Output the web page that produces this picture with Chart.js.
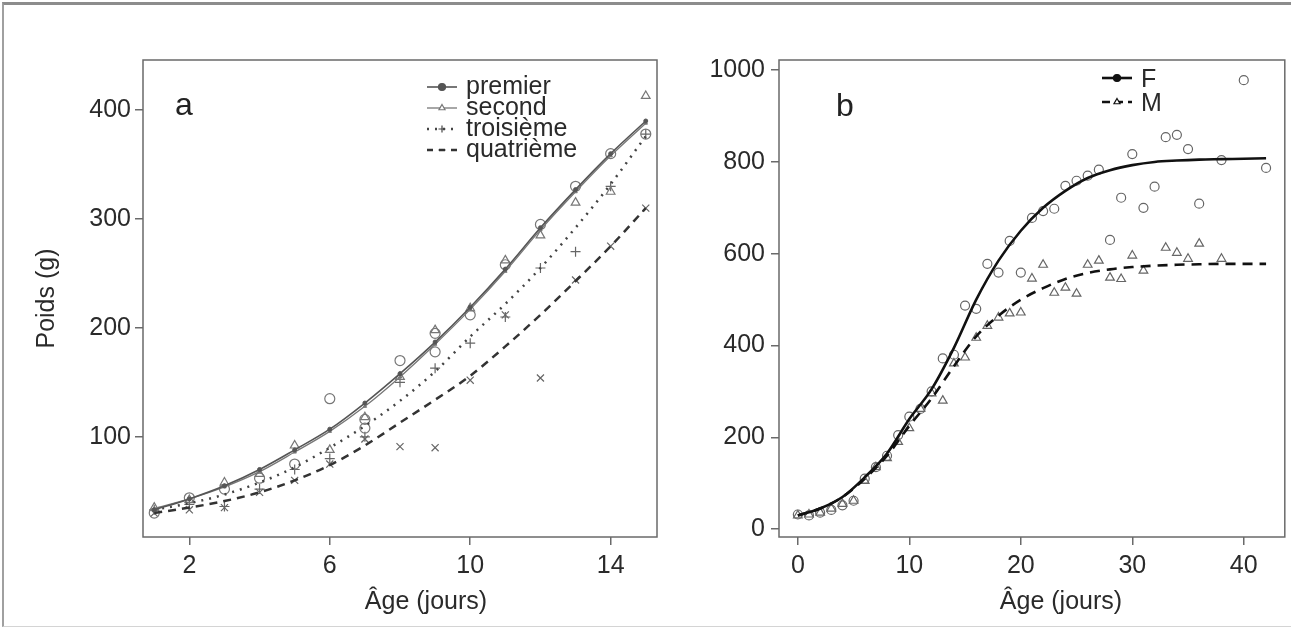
<!DOCTYPE html>
<html>
<head>
<meta charset="utf-8">
<script src="https://cdn.jsdelivr.net/npm/chart.js@4"></script>
<style>
html, body { margin: 0; padding: 0; background: #fff; }
#wrap { position: relative; width: 1291px; height: 634px; overflow: hidden; }
#frame { position: absolute; left: 2px; top: 2px; width: 1300px; height: 621px;
  border-top: 3px solid #8c8c8c; border-left: 2px solid #a0a0a0; border-bottom: 1px solid #d4d4d4; }
canvas { position: absolute; top: 0; }
</style>
</head>
<body>
<div id="wrap">
  <div id="frame"></div>
  <canvas id="chartA" width="680" height="634" style="left:0"></canvas>
  <canvas id="chartB" width="611" height="634" style="left:680px"></canvas>
</div>
<script>
// panel a : weight by litter rank
const agesA = [1, 2, 3, 4, 5, 6, 7, 8, 9, 10, 11, 12, 13, 14, 15];
const premierFit   = [33, 43, 55, 70, 88, 107, 131, 158, 187, 219, 254, 292, 327, 360, 390];
const secondFit    = [34, 43, 54, 68, 86, 105, 128, 155, 185, 217, 252, 290, 325, 358, 388];
const troisiemeFit = [33, 39, 47, 58, 72, 90, 110, 133, 160, 192, 222, 255, 292, 332, 376];
const quatriemeFit = [30, 35, 41, 49, 60, 74, 92, 113, 134, 156, 183, 212, 243, 275, 310];

const premierPts   = [[1,30],[2,44],[3,52],[4,62],[5,75],[6,135],[7,108],[7,116],[8,170],[9,178],[9,195],[10,212],[11,258],[12,295],[13,330],[14,360],[15,378]];
const secondPts    = [[1,35],[2,42],[3,58],[4,66],[5,92],[6,88],[7,118],[8,155],[9,198],[10,218],[11,262],[12,285],[13,315],[14,325],[15,413]];
const troisiemePts = [[1,33],[2,38],[3,36],[4,52],[5,70],[6,80],[7,100],[8,150],[9,163],[10,186],[11,210],[12,255],[13,270],[14,330],[15,378]];
const quatriemePts = [[1,30],[2,33],[3,35],[4,49],[5,60],[6,75],[7,98],[8,91],[9,90],[10,152],[11,212],[12,154],[13,244],[14,275],[15,310]];

// panel b : weight by sex
const agesB = [0, 2, 4, 6, 8, 10, 12, 14, 16, 18, 20, 22, 24, 26, 28, 30, 32, 34, 36, 38, 40, 42];
const femaleFit = [30, 45, 70, 113, 165, 240, 305, 395, 500, 585, 650, 700, 737, 765, 782, 793, 800, 803, 805, 806, 807, 808];
const maleFit   = [30, 45, 70, 110, 160, 225, 285, 355, 420, 465, 500, 525, 545, 558, 566, 571, 574, 576, 577, 578, 578, 578];

const femalePts = [[0,32],[1,30],[2,36],[3,42],[4,52],[5,62],[6,110],[7,135],[8,160],[9,205],[10,245],[11,262],[12,300],[13,372],[14,380],[15,487],[16,480],[17,578],[18,559],[19,628],[20,559],[21,678],[22,693],[23,698],[24,748],[25,759],[26,770],[27,783],[28,630],[29,722],[30,817],[31,700],[32,746],[33,854],[34,859],[35,828],[36,709],[38,804],[40,978],[42,787]];
const malePts   = [[0,30],[1,32],[2,36],[3,45],[4,55],[5,62],[6,105],[7,135],[8,155],[9,190],[10,220],[11,262],[12,296],[13,280],[14,361],[15,374],[16,417],[17,443],[18,461],[19,470],[20,472],[21,546],[22,576],[23,515],[24,526],[25,513],[26,576],[27,585],[28,548],[29,545],[30,596],[31,563],[33,613],[34,602],[35,589],[36,622],[38,589]];

const ticksAx = [2, 6, 10, 14];
const ticksAy = [100, 200, 300, 400];
const ticksBx = [0, 10, 20, 30, 40];
const ticksBy = [0, 200, 400, 600, 800, 1000];

Chart.defaults.font.family = '"Liberation Sans", Arial, sans-serif';
Chart.defaults.font.size = 25;
Chart.defaults.color = '#2a2a2a';

const toXY = (xs, ys) => xs.map((x, i) => ({ x: x, y: ys[i] }));
const toPts = pts => pts.map(p => ({ x: p[0], y: p[1] }));

// box around the plot, panel letter, x title and legend drawn inside
const panelPlugin = {
  id: 'panel',
  afterDraw(chart, args, o) {
    const { ctx, chartArea: a } = chart;
    ctx.save();
    ctx.strokeStyle = '#6a6a6a';
    ctx.lineWidth = 1.5;
    ctx.strokeRect(a.left, a.top, a.right - a.left, a.bottom - a.top);
    ctx.fillStyle = '#222';
    ctx.font = '32px "Liberation Sans", Arial';
    ctx.fillText(o.letter, o.letterX, o.letterY);
    ctx.font = '25px "Liberation Sans", Arial';
    ctx.textAlign = 'center';
    ctx.fillStyle = '#2a2a2a';
    ctx.fillText('Âge (jours)', o.titleX, 609);
    ctx.textAlign = 'left';
    o.legend.forEach((e, i) => {
      const y = o.legY + i * o.legStep;
      ctx.strokeStyle = e.color;
      ctx.lineWidth = e.width;
      ctx.setLineDash(e.dash);
      ctx.beginPath();
      ctx.moveTo(o.legX, y);
      ctx.lineTo(o.legX + 30, y);
      ctx.stroke();
      ctx.setLineDash([]);
      ctx.lineWidth = 1.2;
      ctx.fillStyle = e.fill;
      Chart.helpers.drawPoint(ctx, { pointStyle: e.marker, radius: 3.5, borderWidth: 1.2, rotation: 0 }, o.legX + 15, y);
      ctx.fillStyle = '#2a2a2a';
      ctx.fillText(e.label, o.legX + 39, y + o.textShift);
    });
    ctx.restore();
  }
};

function fixedTicks(list) {
  return scale => { scale.ticks = list.map(v => ({ value: v })); };
}
const plain = v => String(v);

const gridStyle = { drawOnChartArea: false, color: '#6a6a6a', lineWidth: 1.5, tickLength: 8 };

function curve(xs, ys, color, width, dash, marker, r) {
  return {
    data: toXY(xs, ys), showLine: true, borderColor: color, borderWidth: width, borderDash: dash,
    cubicInterpolationMode: 'monotone', pointStyle: marker, pointRadius: r,
    pointBackgroundColor: color, pointBorderColor: color, pointBorderWidth: 1
  };
}
function scatter(pts, marker, color, r) {
  return {
    data: toPts(pts), showLine: false, pointStyle: marker, pointRadius: r,
    pointBorderColor: color, pointBackgroundColor: 'rgba(0,0,0,0)', pointBorderWidth: 1.2
  };
}

new Chart(document.getElementById('chartA'), {
  type: 'scatter',
  data: {
    datasets: [
      curve(agesA, premierFit, '#555', 1.6, [], 'circle', 2),
      curve(agesA, secondFit, '#777', 1.3, [], 'triangle', 2),
      curve(agesA, troisiemeFit, '#444', 2.5, [2, 6], 'cross', 0),
      curve(agesA, quatriemeFit, '#333', 2.5, [8, 6], 'circle', 0),
      scatter(premierPts, 'circle', '#777', 5),
      scatter(secondPts, 'triangle', '#777', 5),
      scatter(troisiemePts, 'cross', '#666', 5),
      scatter(quatriemePts, 'crossRot', '#666', 5)
    ]
  },
  options: {
    responsive: false, animation: false, devicePixelRatio: 1,
    layout: { padding: { top: 60, right: 23, bottom: 0, left: 0 } },
    plugins: {
      legend: { display: false }, tooltip: { enabled: false },
      panel: {
        letter: 'a', letterX: 175, letterY: 115, titleX: 426,
        legX: 427, legY: 87, legStep: 21, textShift: 7,
        legend: [
          { label: 'premier', color: '#555', width: 1.6, dash: [], marker: 'circle', fill: '#555' },
          { label: 'second', color: '#777', width: 1.3, dash: [], marker: 'triangle', fill: '#fff' },
          { label: 'troisième', color: '#444', width: 2.5, dash: [2, 6], marker: 'cross', fill: '#444' },
          { label: 'quatrième', color: '#333', width: 2.5, dash: [6, 6], marker: 'line', fill: '#333' }
        ]
      }
    },
    scales: {
      x: {
        type: 'linear', min: 0.68, max: 15.32,
        afterBuildTicks: fixedTicks(ticksAx),
        afterFit: s => { s.height = 97; },
        grid: gridStyle, border: { display: false },
        ticks: { padding: 6, maxRotation: 0, autoSkip: false, callback: plain }
      },
      y: {
        min: 8, max: 446,
        afterBuildTicks: fixedTicks(ticksAy),
        afterFit: s => { s.width = 143; },
        grid: gridStyle, border: { display: false },
        ticks: { padding: 4, callback: plain },
        title: { display: true, text: 'Poids (g)', padding: { top: 32, bottom: 0 } }
      }
    }
  },
  plugins: [panelPlugin]
});

new Chart(document.getElementById('chartB'), {
  type: 'scatter',
  data: {
    datasets: [
      curve(agesB, femaleFit, '#111', 2.6, [], 'circle', 0),
      curve(agesB, maleFit, '#111', 2.6, [10, 7], 'triangle', 0),
      scatter(femalePts, 'circle', '#666', 4.5),
      scatter(malePts, 'triangle', '#666', 5)
    ]
  },
  options: {
    responsive: false, animation: false, devicePixelRatio: 1,
    layout: { padding: { top: 60, right: 2, bottom: 0, left: 0 } },
    plugins: {
      legend: { display: false }, tooltip: { enabled: false },
      panel: {
        letter: 'b', letterX: 156, letterY: 116, titleX: 381,
        legX: 422, legY: 78, legStep: 24, textShift: 9,
        legend: [
          { label: 'F', color: '#111', width: 2.6, dash: [], marker: 'circle', fill: '#111' },
          { label: 'M', color: '#111', width: 2.6, dash: [8, 5], marker: 'triangle', fill: '#fff' }
        ]
      }
    },
    scales: {
      x: {
        type: 'linear', min: -1.69, max: 43.68,
        afterBuildTicks: fixedTicks(ticksBx),
        afterFit: s => { s.height = 97; },
        grid: gridStyle, border: { display: false },
        ticks: { padding: 6, maxRotation: 0, autoSkip: false, callback: plain }
      },
      y: {
        min: -17, max: 1022,
        afterBuildTicks: fixedTicks(ticksBy),
        afterFit: s => { s.width = 99; },
        grid: gridStyle, border: { display: false },
        ticks: { padding: 6, callback: plain }
      }
    }
  },
  plugins: [panelPlugin]
});
</script>
</body>
</html>
